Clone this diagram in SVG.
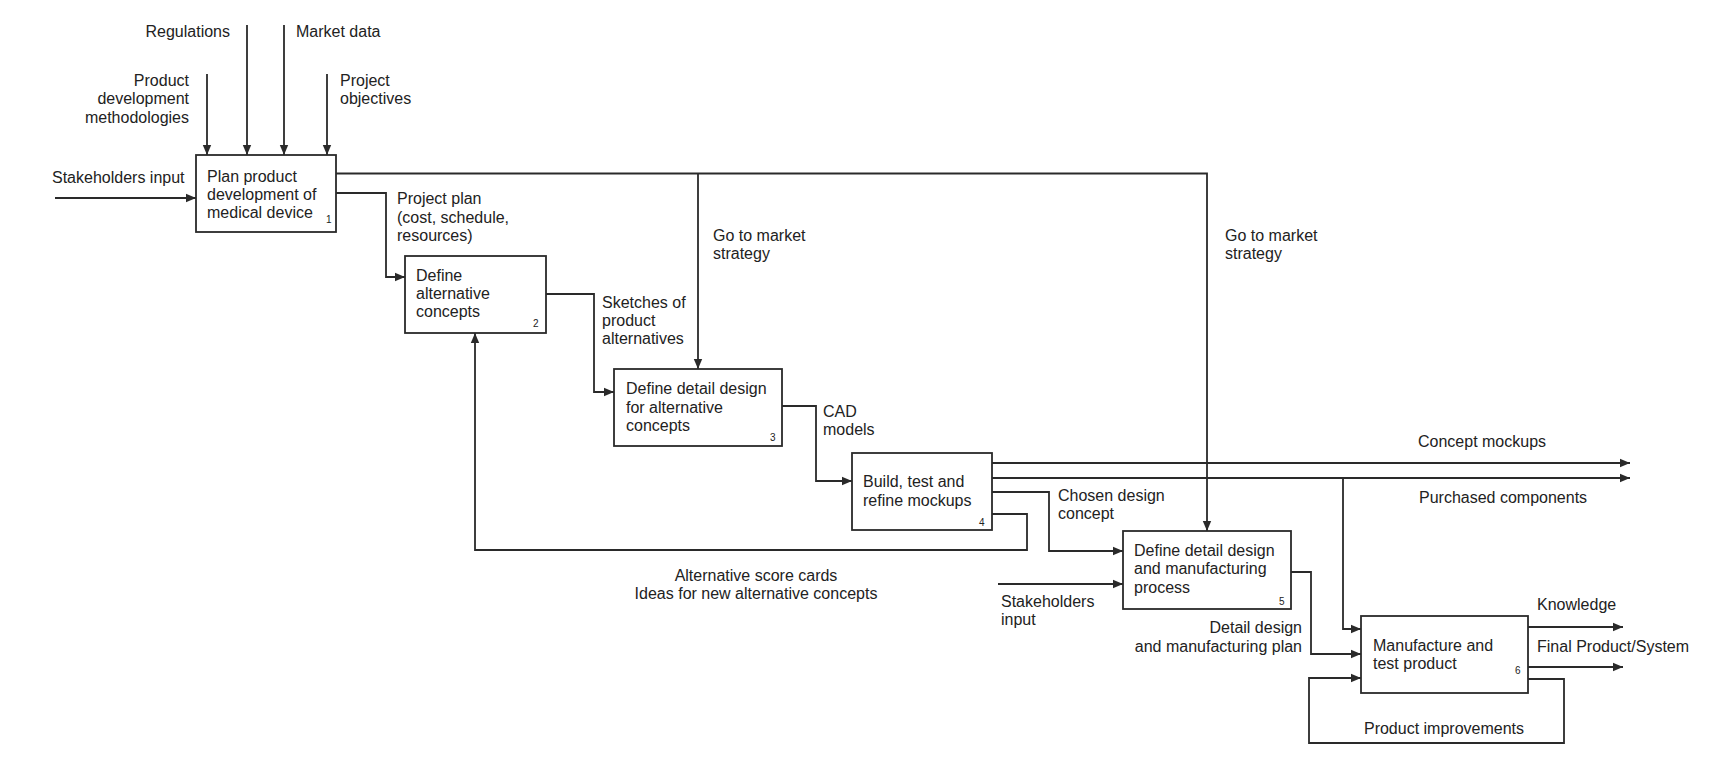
<svg xmlns="http://www.w3.org/2000/svg" width="1722" height="764" viewBox="0 0 1722 764">
<defs>
<marker id="ah" markerUnits="userSpaceOnUse" markerWidth="12" markerHeight="10" refX="10" refY="5" orient="auto">
<path d="M0,0.8 L10,5 L0,9.2 Z" fill="#2a2a2a"/>
</marker>
<style>
.box{fill:#fff;stroke:#2a2a2a;stroke-width:1.8}
.c{fill:none;stroke:#2a2a2a;stroke-width:1.8}
.a{fill:none;stroke:#2a2a2a;stroke-width:1.8;marker-end:url(#ah)}
text{font-family:"Liberation Sans",Arial,sans-serif;font-size:16px;fill:#222}
.n{font-size:10px}
.r{text-anchor:end}
.m{text-anchor:middle}
</style>
</defs>
<rect width="1722" height="764" fill="#fff"/>
<g id="connectors">
<path class="a" d="M207,74 V155"/>
<path class="a" d="M247,25 V155"/>
<path class="a" d="M284,25 V155"/>
<path class="a" d="M327,74 V155"/>
<path class="a" d="M55,198 H196"/>
<path class="a" d="M336,173.5 H1207 V531"/>
<path class="a" d="M698,173.5 V369"/>
<path class="a" d="M336,193 H386 V277 H405"/>
<path class="a" d="M546,294 H594 V392 H614"/>
<path class="a" d="M782,406 H816 V481 H852"/>
<path class="a" d="M992,463 H1630"/>
<path class="a" d="M992,478 H1630"/>
<path class="a" d="M1343,478 V629 H1361"/>
<path class="a" d="M992,492 H1049 V551 H1123"/>
<path class="a" d="M992,514 H1027 V550 H475 V333"/>
<path class="a" d="M998,584 H1123"/>
<path class="a" d="M1291,572 H1311 V654 H1361"/>
<path class="a" d="M1528,627 H1623"/>
<path class="a" d="M1528,667 H1623"/>
<path class="a" d="M1528,679 H1564 V743 H1309 V678 H1361"/>
</g>
<g id="labels">
<text x="230" y="37" class="r">Regulations</text>
<text x="296" y="37">Market data</text>
<text x="189" y="86" class="r">Product</text>
<text x="189" y="104" class="r">development</text>
<text x="189" y="123" class="r">methodologies</text>
<text x="340" y="86">Project</text>
<text x="340" y="104">objectives</text>
<text x="52" y="183">Stakeholders input</text>
<text x="397" y="204">Project plan</text>
<text x="397" y="223">(cost, schedule,</text>
<text x="397" y="241">resources)</text>
<text x="713" y="241">Go to market</text>
<text x="713" y="259">strategy</text>
<text x="1225" y="241">Go to market</text>
<text x="1225" y="259">strategy</text>
<text x="602" y="308">Sketches of</text>
<text x="602" y="326">product</text>
<text x="602" y="344">alternatives</text>
<text x="823" y="417">CAD</text>
<text x="823" y="435">models</text>
<text x="1418" y="447">Concept mockups</text>
<text x="1419" y="503">Purchased components</text>
<text x="1058" y="501">Chosen design</text>
<text x="1058" y="519">concept</text>
<text x="756" y="581" class="m">Alternative score cards</text>
<text x="756" y="599" class="m">Ideas for new alternative concepts</text>
<text x="1001" y="607">Stakeholders</text>
<text x="1001" y="625">input</text>
<text x="1302" y="633" class="r">Detail design</text>
<text x="1302" y="652" class="r">and manufacturing plan</text>
<text x="1537" y="610">Knowledge</text>
<text x="1537" y="652">Final Product/System</text>
<text x="1444" y="734" class="m">Product improvements</text>
</g>
<g id="node1">
<rect class="box" x="196" y="155" width="140" height="77"/>
<text x="207" y="182">Plan product</text>
<text x="207" y="200">development of</text>
<text x="207" y="218">medical device</text>
<text x="326" y="223" class="n">1</text>
</g>
<g id="node2">
<rect class="box" x="405" y="256" width="141" height="77"/>
<text x="416" y="281">Define</text>
<text x="416" y="299">alternative</text>
<text x="416" y="317">concepts</text>
<text x="533" y="327" class="n">2</text>
</g>
<g id="node3">
<rect class="box" x="614" y="369" width="168" height="77"/>
<text x="626" y="394">Define detail design</text>
<text x="626" y="413">for alternative</text>
<text x="626" y="431">concepts</text>
<text x="770" y="441" class="n">3</text>
</g>
<g id="node4">
<rect class="box" x="852" y="453" width="140" height="77"/>
<text x="863" y="487">Build, test and</text>
<text x="863" y="506">refine mockups</text>
<text x="979" y="526" class="n">4</text>
</g>
<g id="node5">
<rect class="box" x="1123" y="531" width="168" height="78"/>
<text x="1134" y="556">Define detail design</text>
<text x="1134" y="574">and manufacturing</text>
<text x="1134" y="593">process</text>
<text x="1279" y="605" class="n">5</text>
</g>
<g id="node6">
<rect class="box" x="1361" y="616" width="167" height="77"/>
<text x="1373" y="651">Manufacture and</text>
<text x="1373" y="669">test product</text>
<text x="1515" y="674" class="n">6</text>
</g>
</svg>
